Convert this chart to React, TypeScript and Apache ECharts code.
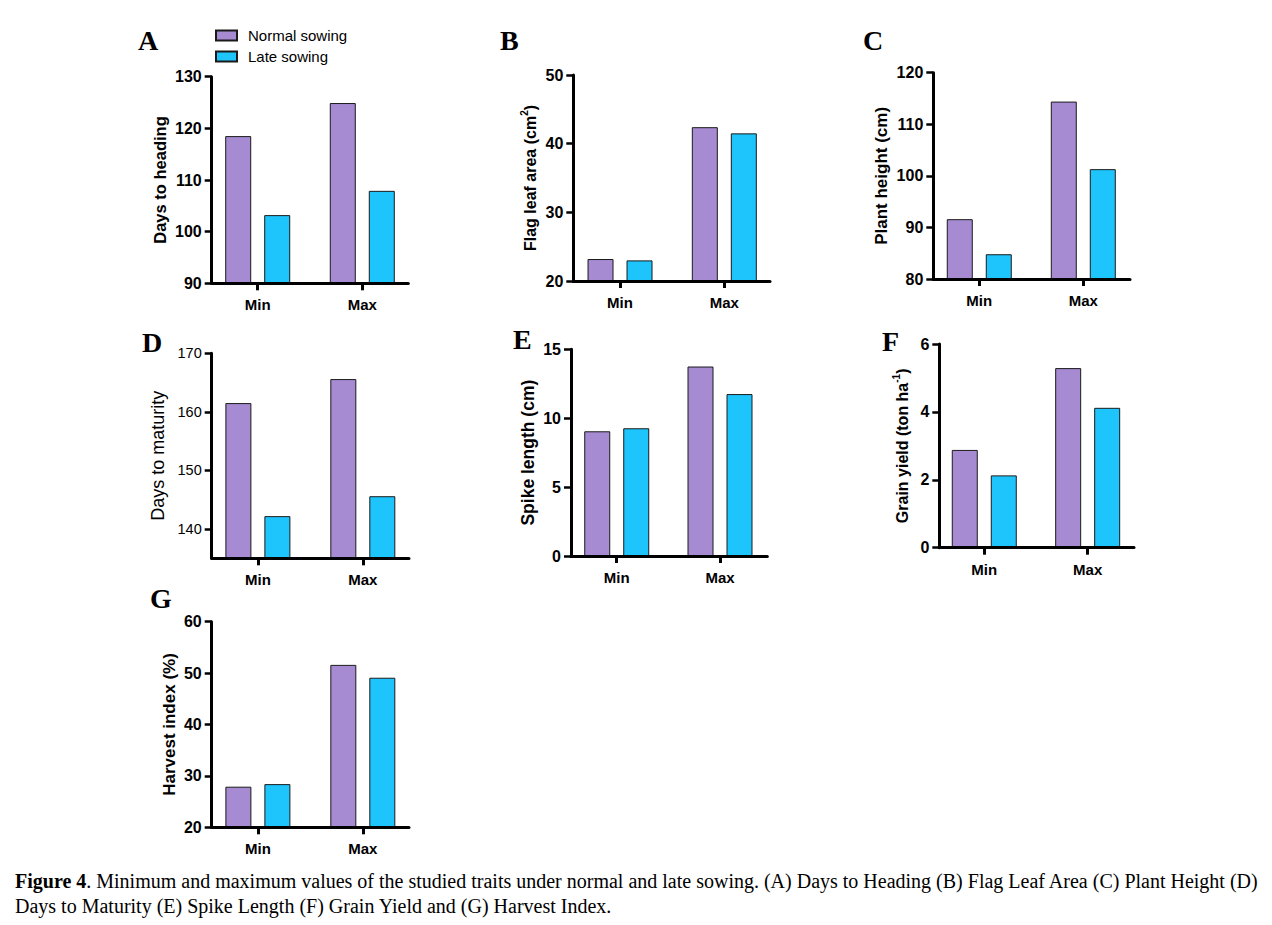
import React, { useEffect, useRef } from "react";
import * as echarts from "echarts";

// ---------- data ----------
const categories = ["Min", "Max"];
const seriesNames = ["Normal sowing", "Late sowing"];

const normalA = [118.5, 124.9];
const lateA = [103.2, 107.9];
const normalB = [23.2, 42.4];
const lateB = [23.0, 41.5];
const normalC = [91.6, 114.4];
const lateC = [84.8, 101.3];
const normalD = [161.5, 165.6];
const lateD = [142.2, 145.6];
const normalE = [9.05, 13.75];
const lateE = [9.27, 11.75];
const normalF = [2.88, 5.29];
const lateF = [2.13, 4.12];
const normalG = [27.9, 51.6];
const lateG = [28.4, 49.1];

const ticksA = [90, 100, 110, 120, 130];
const ticksB = [20, 30, 40, 50];
const ticksC = [80, 90, 100, 110, 120];
const ticksD = [140, 150, 160, 170];
const ticksE = [0, 5, 10, 15];
const ticksF = [0, 2, 4, 6];
const ticksG = [20, 30, 40, 50, 60];

const captionLine1 =
  ". Minimum and maximum values of the studied traits under normal and late sowing. (A) Days to Heading (B) Flag Leaf Area (C) Plant Height (D)";
const captionLine2 =
  "Days to Maturity (E) Spike Length (F) Grain Yield and (G) Harvest Index.";

// ---------- styling / layout ----------
const PURPLE = "#a68bd3";
const CYAN = "#1ec5fd";
const SANS = "'Liberation Sans', Arial, sans-serif";
const SERIF = "'Liberation Serif', 'Times New Roman', serif";

type Panel = {
  letter: string;
  lx: number;
  ly: number;
  box: { l: number; t: number; r: number; b: number };
  yMin: number;
  yMax: number;
  ticks: number[];
  name: string;
  nameGap: number;
  nameSize: number;
  bold: boolean;
  tickSize: number;
  normal: number[];
  late: number[];
  xMin: number;
  xMax: number;
};

const panels: Panel[] = [
  { letter: "A", lx: 138, ly: 26, box: { l: 211.7, t: 76.7, r: 408.3, b: 283.3 }, yMin: 90, yMax: 130, ticks: ticksA, name: "Days to heading", nameGap: 39, nameSize: 16.5, bold: true, tickSize: 16, normal: normalA, late: lateA, xMin: -0.44, xMax: 1.44 },
  { letter: "B", lx: 500, ly: 26, box: { l: 573.3, t: 75, r: 770, b: 281 }, yMin: 20, yMax: 50, ticks: ticksB, name: "Flag leaf area (cm{sup|2})", nameGap: 32, nameSize: 16, bold: true, tickSize: 16, normal: normalB, late: lateB, xMin: -0.448, xMax: 1.438 },
  { letter: "C", lx: 863, ly: 26, box: { l: 933.3, t: 72.7, r: 1130, b: 279 }, yMin: 80, yMax: 120, ticks: ticksC, name: "Plant height (cm)", nameGap: 39, nameSize: 17, bold: true, tickSize: 16, normal: normalC, late: lateC, xMin: -0.442, xMax: 1.449 },
  { letter: "D", lx: 142, ly: 328, box: { l: 211.7, t: 353.3, r: 409, b: 558.3 }, yMin: 135, yMax: 170, ticks: ticksD, name: "Days to maturity", nameGap: 43, nameSize: 18, bold: false, tickSize: 14.5, normal: normalD, late: lateD, xMin: -0.44, xMax: 1.44 },
  { letter: "E", lx: 513, ly: 325, box: { l: 571, t: 349.3, r: 767.3, b: 556 }, yMin: 0, yMax: 15, ticks: ticksE, name: "Spike length (cm)", nameGap: 32, nameSize: 17.5, bold: true, tickSize: 16, normal: normalE, late: lateE, xMin: -0.443, xMax: 1.458 },
  { letter: "F", lx: 882, ly: 327, box: { l: 939.3, t: 344, r: 1134, b: 547.7 }, yMin: 0, yMax: 6, ticks: ticksF, name: "Grain yield (ton ha{sup|-1})", nameGap: 26, nameSize: 16, bold: true, tickSize: 16, normal: normalF, late: lateF, xMin: -0.435, xMax: 1.448 },
  { letter: "G", lx: 150, ly: 584, box: { l: 211.7, t: 621.7, r: 409, b: 827.3 }, yMin: 20, yMax: 60, ticks: ticksG, name: "Harvest index (%)", nameGap: 31, nameSize: 17, bold: true, tickSize: 16, normal: normalG, late: lateG, xMin: -0.44, xMax: 1.44 },
];

function buildOption() {
  const grid: any[] = [];
  const xAxis: any[] = [];
  const yAxis: any[] = [];
  const series: any[] = [];
  const graphic: any[] = [];

  panels.forEach((p, i) => {
    grid.push({
      left: p.box.l,
      top: p.box.t,
      width: p.box.r - p.box.l,
      height: p.box.b - p.box.t,
      containLabel: false,
    });
    xAxis.push({
      type: "value",
      gridIndex: i,
      min: p.xMin,
      max: p.xMax,
      z: 5,
      axisLine: { show: true, onZero: false, lineStyle: { color: "#000", width: 3 } },
      axisTick: { show: true, customValues: [0, 1], length: 7, lineStyle: { color: "#000", width: 3 } },
      axisLabel: {
        customValues: [0, 1],
        formatter: (v: number) => categories[Math.round(v)] ?? "",
        margin: 14,
        color: "#000",
        fontFamily: SANS,
        fontWeight: "bold",
        fontSize: 15,
      },
      splitLine: { show: false },
    });
    yAxis.push({
      type: "value",
      gridIndex: i,
      min: p.yMin,
      max: p.yMax,
      z: 5,
      name: p.name,
      nameLocation: "middle",
      nameRotate: 90,
      nameGap: p.nameGap,
      nameTextStyle: {
        color: "#000",
        fontFamily: SANS,
        fontWeight: p.bold ? "bold" : "normal",
        fontSize: p.nameSize,
        lineHeight: 22,
        rich: {
          sup: {
            fontFamily: SANS,
            fontWeight: p.bold ? "bold" : "normal",
            fontSize: 10,
            verticalAlign: "top",
            color: "#000",
          },
        },
      },
      axisLine: { show: true, onZero: false, lineStyle: { color: "#000", width: 3 } },
      axisTick: { show: true, customValues: p.ticks, length: 7, lineStyle: { color: "#000", width: 2.5 } },
      axisLabel: {
        customValues: p.ticks,
        margin: 10,
        color: "#000",
        fontFamily: SANS,
        fontWeight: p.bold ? "bold" : "normal",
        fontSize: p.tickSize,
      },
      splitLine: { show: false },
    });
    [p.normal, p.late].forEach((vals, k) => {
      series.push({
        type: "bar",
        name: seriesNames[k],
        xAxisIndex: i,
        yAxisIndex: i,
        data: vals.map((v, j) => [j, v]),
        barWidth: 26,
        barGap: "50%",
        itemStyle: { color: k === 0 ? PURPLE : CYAN, borderColor: "#1a1a1a", borderWidth: 1 },
        emphasis: { disabled: true },
      });
    });
    graphic.push({
      type: "text",
      left: p.lx,
      top: p.ly,
      style: {
        text: p.letter,
        font: `bold 28px ${SERIF}`,
        fill: "#000",
      },
    });
  });

  graphic.push({
    type: "text",
    left: 15,
    top: 868,
    style: {
      text: `{b|Figure 4}${captionLine1}\n${captionLine2}`,
      fontFamily: SERIF,
      fontSize: 20,
      lineHeight: 25,
      fill: "#000",
      rich: {
        b: { fontFamily: SERIF, fontSize: 20, fontWeight: "bold", lineHeight: 25 },
      },
    },
  });

  return {
    animation: false,
    backgroundColor: "#fff",
    legend: {
      data: seriesNames,
      orient: "vertical",
      left: 215,
      top: 28,
      itemWidth: 21,
      itemHeight: 10,
      itemGap: 6,
      icon: "rect",
      selectedMode: false,
      padding: 0,
      textStyle: { color: "#000", fontFamily: SANS, fontSize: 15, padding: [0, 0, 0, 6] },
    },
    grid,
    xAxis,
    yAxis,
    series,
    graphic,
  };
}

export default function App() {
  const ref = useRef<HTMLDivElement>(null);
  useEffect(() => {
    if (!ref.current) return;
    const chart = echarts.init(ref.current, undefined, { renderer: "svg" });
    chart.setOption(buildOption() as any);
    return () => chart.dispose();
  }, []);
  return (
    <div
      ref={ref}
      style={{ position: "absolute", left: 0, top: 0, width: 1272, height: 925, background: "#fff" }}
    />
  );
}
